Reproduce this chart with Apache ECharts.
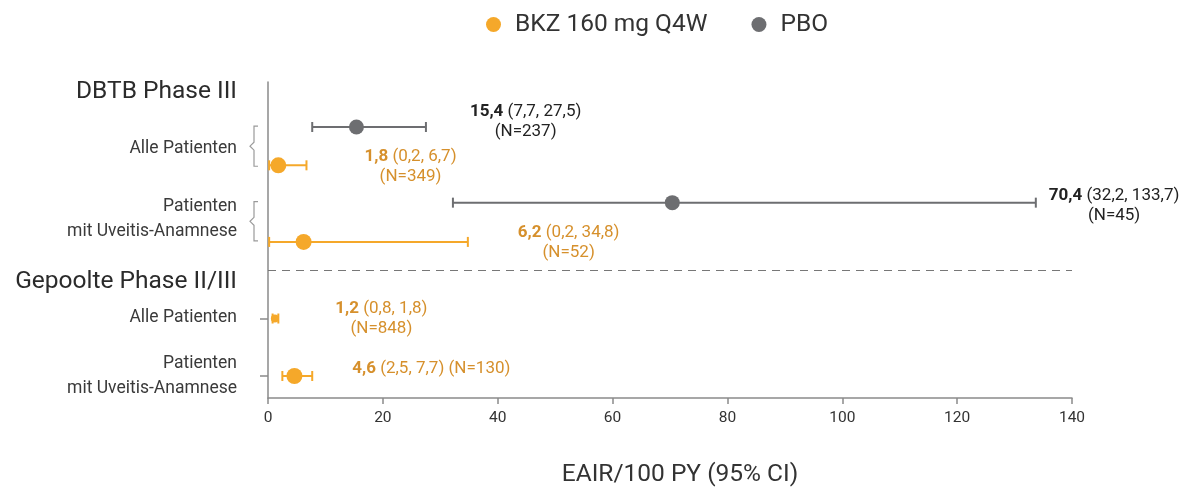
<!DOCTYPE html>
<html>
<head>
<meta charset="utf-8">
<script src="https://cdn.jsdelivr.net/npm/echarts@6/dist/echarts.min.js"></script>
<style>
html, body { margin: 0; padding: 0; background: #fff; }
#chart { width: 1195px; height: 492px; }
</style>
</head>
<body>
<div id="chart"></div>
<script>
// values
const bkzName = 'BKZ 160 mg Q4W'
const pboName = 'PBO'
const bkzEst = [1.8, 6.2, 1.2, 4.6]
const bkzLow = [0.2, 0.2, 0.8, 2.5]
const bkzHigh = [6.7, 34.8, 1.8, 7.7]
const bkzN = [349, 52, 848, 130]
const pboEst = [15.4, 70.4]
const pboLow = [7.7, 32.2]
const pboHigh = [27.5, 133.7]
const pboN = [237, 45]
const rowLabels = ['DBTB Phase III', 'Alle Patienten', 'Patienten\nmit Uveitis-Anamnese',
    'Gepoolte Phase II/III', 'Alle Patienten', 'Patienten\nmit Uveitis-Anamnese']
const xTicks = [0, 20, 40, 60, 80, 100, 120, 140]

// layout (row slots on a hidden 0..33 axis, top to bottom)
const labelSlot = [1.0, 7.0, 14.3, 20.9, 24.6, 30.7]
const headingIdx = [0, 3]
const bkzSlot = [8.7, 16.7, 24.7, 30.7]
const pboSlot = [4.7, 12.6]
const separatorSlot = 19.7
const braceSlots = [[4.6, 8.8], [12.5, 16.6]]
const tickSlots = [24.7, 30.7]
// label shift [dx from CI end, dy from row], one-line flag
const bkzLabelShift = [[58, 1, 0], [50, 1, 0], [57, 0, 0], [40, -7, 1]]
const pboLabelShift = [[44, -5, 0], [13, 3, 0]]

const FONT = 'Roboto, "Liberation Sans", sans-serif'
const ORANGE = '#f5a82a'
const ORANGE_TXT = '#d6902c'
const GREY = '#6d6e71'

const fmt = v => String(v).replace('.', ',')

function ciData(est, low, high, n, slot, shift) {
    return est.map((e, i) => [low[i], high[i], slot[i], e, n[i], shift[i][0], shift[i][1], shift[i][2]])
}

function makeCiSeries(name, color, txtColor, data) {
    return {
        name: name + ' CI',
        type: 'custom',
        clip: false,
        z: 2,
        data: data,
        renderItem: (params, api) => {
            const y = api.value(2)
            const p1 = api.coord([api.value(0), y])
            const p2 = api.coord([api.value(1), y])
            const h = 5
            const ls = { stroke: color, lineWidth: 2 }
            const est = fmt(api.value(3))
            const ci = '(' + fmt(api.value(0)) + ', ' + fmt(api.value(1)) + ')'
            const nTxt = '(N=' + api.value(4) + ')'
            const oneLine = api.value(7) === 1
            const text = oneLine
                ? '{b|' + est + '} {r|' + ci + ' ' + nTxt + '}'
                : '{b|' + est + '} {r|' + ci + '}\n{r|' + nTxt + '}'
            return {
                type: 'group',
                children: [
                    { type: 'line', shape: { x1: p1[0], y1: p1[1], x2: p2[0], y2: p2[1] }, style: ls },
                    { type: 'line', shape: { x1: p1[0], y1: p1[1] - h, x2: p1[0], y2: p1[1] + h }, style: ls },
                    { type: 'line', shape: { x1: p2[0], y1: p2[1] - h, x2: p2[0], y2: p2[1] + h }, style: ls },
                    {
                        type: 'text',
                        x: p2[0] + api.value(5),
                        y: p2[1] + api.value(6),
                        style: {
                            text: text,
                            align: 'left',
                            verticalAlign: 'middle',
                            fill: txtColor,
                            fontFamily: FONT,
                            fontSize: 17,
                            lineHeight: 20,
                            rich: {
                                b: { fontWeight: 'bold', fill: txtColor, fontSize: 17, fontFamily: FONT, align: 'center', lineHeight: 20 },
                                r: { fill: txtColor, fontSize: 17, fontFamily: FONT, align: 'center', lineHeight: 20 }
                            }
                        }
                    }
                ]
            }
        }
    }
}

const chart = echarts.init(document.getElementById('chart'))

const option = {
    animation: false,
    textStyle: { fontFamily: FONT },
    legend: {
        top: 7,
        left: 481,
        data: [bkzName, pboName],
        icon: 'circle',
        itemWidth: 15,
        itemHeight: 15,
        itemGap: 44,
        textStyle: { color: '#333', fontSize: 24.5, fontFamily: FONT, padding: [0, 0, 0, 9] }
    },
    grid: { left: 268, right: 123, top: 82, bottom: 88 },
    xAxis: {
        type: 'value',
        min: 0,
        max: 140,
        interval: 20,
        name: 'EAIR/100 PY (95% CI)',
        nameLocation: 'middle',
        nameGap: 64,
        nameTextStyle: { color: '#333', fontSize: 24.5, fontFamily: FONT, padding: [0, 0, 0, 20] },
        axisLine: { onZero: false, lineStyle: { color: '#8a8a8a', width: 1.5 } },
        axisTick: { show: true, length: 6, lineStyle: { color: '#8a8a8a', width: 1.5 } },
        axisLabel: {
            color: '#333', fontSize: 15.5, margin: 12,
            formatter: v => xTicks.indexOf(v) > -1 ? String(v) : ''
        },
        splitLine: { show: false }
    },
    yAxis: {
        type: 'value',
        inverse: true,
        min: 0,
        max: 33,
        axisLine: { show: true, onZero: false, lineStyle: { color: '#8a8a8a', width: 1.5 } },
        axisTick: { show: true, length: 8, customValues: tickSlots, lineStyle: { color: '#8a8a8a', width: 1.5 } },
        axisLabel: {
            margin: 31,
            customValues: labelSlot,
            formatter: (v) => {
                let idx = 0
                labelSlot.forEach((s, i) => { if (Math.abs(s - v) < Math.abs(labelSlot[idx] - v)) idx = i })
                const key = headingIdx.indexOf(idx) > -1 ? 'h' : 's'
                return rowLabels[idx].split('\n').map(t => '{' + key + '|' + t + '}').join('\n')
            },
            rich: {
                h: { fontSize: 24.5, color: '#2b2b2b', fontFamily: FONT, lineHeight: 28, align: 'right' },
                s: { fontSize: 17.5, color: '#3a3a3a', fontFamily: FONT, lineHeight: 25, align: 'right' }
            }
        },
        splitLine: { show: false }
    },
    series: [
        makeCiSeries(pboName, GREY, '#222', ciData(pboEst, pboLow, pboHigh, pboN, pboSlot, pboLabelShift)),
        makeCiSeries(bkzName, ORANGE, ORANGE_TXT, ciData(bkzEst, bkzLow, bkzHigh, bkzN, bkzSlot, bkzLabelShift)),
        {
            name: pboName,
            type: 'scatter',
            z: 3,
            symbolSize: 15,
            itemStyle: { color: GREY, opacity: 1 },
            data: pboEst.map((v, i) => [v, pboSlot[i]])
        },
        {
            name: bkzName,
            type: 'scatter',
            z: 3,
            symbolSize: (val, p) => p.dataIndex === 2 ? 8 : 16,
            itemStyle: { color: ORANGE, opacity: 1 },
            data: bkzEst.map((v, i) => [v, bkzSlot[i]]),
            markLine: {
                silent: true,
                symbol: 'none',
                label: { show: false },
                lineStyle: { color: '#777', width: 1.2, type: [8, 6] },
                data: [{ yAxis: separatorSlot }]
            }
        },
        {
            name: 'braces',
            type: 'custom',
            clip: false,
            silent: true,
            data: braceSlots,
            renderItem: (params, api) => {
                const t = api.coord([0, api.value(0)])
                const b = api.coord([0, api.value(1)])
                const x = t[0] - 14
                const m = (t[1] + b[1]) / 2
                return {
                    type: 'polyline',
                    shape: { points: [[x + 4, t[1]], [x, t[1]], [x, m - 4], [x - 4, m], [x, m + 4], [x, b[1]], [x + 4, b[1]]] },
                    style: { stroke: '#9a9a9a', lineWidth: 1.2, fill: null }
                }
            }
        }
    ]
}

chart.setOption(option)
</script>
</body>
</html>
